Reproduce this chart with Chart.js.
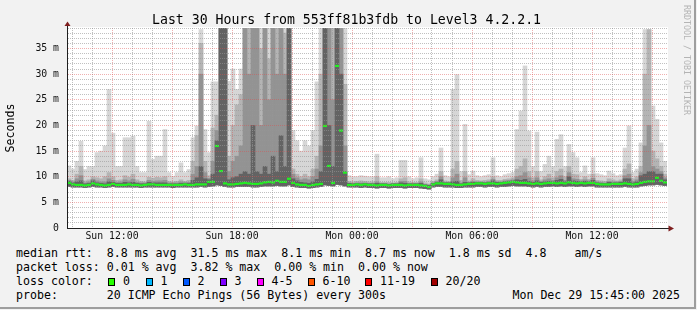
<!DOCTYPE html>
<html>
<head>
<meta charset="utf-8">
<title>Last 30 Hours from 553ff81b3fdb to Level3 4.2.2.1</title>
<script src="https://cdn.jsdelivr.net/npm/chart.js@4.4.1/dist/chart.umd.min.js"></script>
<style>
  html, body { margin:0; padding:0; background:#f2f2f2; }
  #page { position:relative; width:697px; height:310px; overflow:hidden; background:#f2f2f2;
          font-family:"DejaVu Sans Mono", monospace; color:#000; }
  #shadeR { position:absolute; left:694px; top:0; width:2px; height:309px; background:#9e9e9e; }
  #shadeB { position:absolute; left:0; top:307px; width:696px; height:2px; background:#9e9e9e; }
  #chart { position:absolute; left:0; top:0; }
  .txt { position:absolute; white-space:pre; line-height:1; font-size:11.6px; }
  #title { left:152px; top:12.8px; font-size:13.2px; }
  #credit { position:absolute; left:683px; top:5px; font-size:8.3px; line-height:1; color:#b4b4b4;
            writing-mode:vertical-rl; white-space:pre; }
  .box { position:absolute; top:278px; width:7px; height:8px; box-sizing:border-box; border:1px solid #000; }
</style>
</head>
<body>
<div id="page">
  <canvas id="chart" width="697" height="245"></canvas>
  <div class="txt" id="title">Last 30 Hours from 553ff81b3fdb to Level3 4.2.2.1</div>
  <div id="credit">RRDTOOL / TOBI OETIKER</div>
  <div class="txt" style="left:16px;top:248.2px">median rtt:  8.8 ms avg  31.5 ms max  8.1 ms min  8.7 ms now  1.8 ms sd  4.8    am/s</div>
  <div class="txt" style="left:16px;top:262.2px">packet loss: 0.01 % avg  3.82 % max  0.00 % min  0.00 % now</div>
  <div class="txt" style="left:16px;top:276.2px">loss color:</div>
  <div id="lossLegend"></div>
  <div class="txt" style="left:16px;top:290.2px">probe:       20 ICMP Echo Pings (56 Bytes) every 300s</div>
  <div class="txt" style="right:17px;top:290.2px">Mon Dec 29 15:45:00 2025</div>
  <div id="shadeR"></div>
  <div id="shadeB"></div>
</div>
<script>
// ---------------- data ----------------
// time axis: hours since Sun 00:00; graph spans Sun 09:45 .. Mon 15:45, one sample per 12 min
const startHour = 9.75;
const endHour = 39.75;
const sampleHours = 0.2;

// median RTT (ms)
const med = [
  8.8,8.5,8.4,8.4,8.3,8.4,8.7,8.5,8.4,8.3,
  8.4,8.6,8.4,8.4,8.4,8.5,8.4,8.4,8.3,8.4,
  8.5,8.5,8.4,8.4,8.4,8.4,8.4,8.4,8.4,8.5,
  8.4,8.4,8.5,8.5,8.5,9.0,9.0,16.0,11.1,8.7,
  8.5,8.5,8.6,8.7,8.8,8.7,8.6,8.6,8.7,8.9,
  9.0,8.9,9.2,9.0,9.0,9.6,8.8,8.5,8.4,8.4,
  8.2,8.4,8.5,8.6,19.9,12.1,8.8,31.6,19.0,10.8,
  8.4,8.4,8.5,8.4,8.5,8.4,8.4,8.3,8.4,8.4,
  8.3,8.4,8.4,8.4,8.3,8.4,8.4,8.4,8.3,8.2,
  8.0,8.5,8.7,8.7,8.6,8.6,8.5,8.4,8.4,8.5,
  8.6,8.6,8.7,8.7,8.6,8.7,8.7,8.6,8.7,8.8,
  8.9,9.0,8.9,8.8,8.8,8.7,8.6,8.7,8.6,8.7,
  8.8,8.8,8.7,8.8,8.7,8.9,8.8,8.7,8.8,8.7,
  8.8,8.8,8.6,8.5,8.5,8.5,8.6,8.6,8.6,8.7,
  8.6,8.5,8.6,8.8,9.0,9.1,9.1,9.8,9.2,8.9
];

// lowest ping of each sample (ms)
const low = [
  8.1,8.0,8.0,8.0,7.9,8.0,8.1,8.0,8.0,7.9,
  8.0,8.1,8.0,8.0,8.0,8.0,8.0,8.0,7.9,8.0,
  8.0,8.0,8.0,8.0,8.0,8.0,7.9,8.0,8.0,8.0,
  8.0,8.0,8.0,8.1,8.0,8.1,8.2,8.4,8.3,8.1,
  8.0,8.0,8.1,8.1,8.1,8.1,8.0,8.0,8.1,8.2,
  8.2,8.2,8.3,8.2,8.2,8.4,8.1,8.0,7.9,7.9,
  7.8,7.9,8.0,8.1,8.4,8.3,8.2,8.5,8.4,8.2,
  8.0,8.0,8.0,7.9,8.0,7.9,7.9,7.8,7.9,7.9,
  7.8,7.9,7.9,7.9,7.8,7.9,7.9,7.9,7.8,7.7,
  7.6,8.0,8.1,8.1,8.0,8.0,8.0,7.9,7.9,8.0,
  8.0,8.0,8.1,8.1,8.0,8.1,8.1,8.0,8.1,8.1,
  8.2,8.3,8.2,8.2,8.2,8.1,8.0,8.1,8.0,8.1,
  8.1,8.2,8.1,8.2,8.1,8.2,8.2,8.1,8.2,8.1,
  8.2,8.2,8.0,8.0,8.0,8.0,8.0,8.0,8.0,8.1,
  8.0,8.0,8.0,8.2,8.3,8.4,8.4,8.5,8.4,8.3
];

// dense smoke top (ms)
const smokeDense = [
  9.1,8.8,9.0,9.2,8.6,8.7,9.2,8.8,8.7,8.6,
  9.0,8.9,8.7,8.7,8.9,8.8,8.9,8.7,8.6,8.6,
  8.9,8.8,8.8,8.8,8.8,8.6,8.6,8.6,8.7,8.7,
  8.7,9.3,9.8,12.0,9.6,9.4,10.5,17.0,45,45,
  9.4,9.8,10.0,10.5,11.0,10.5,20.0,11.0,10.5,12.0,
  10.5,14.0,11.0,18.0,12.0,45,9.6,9.2,8.9,8.8,
  8.7,9.0,9.5,11.0,45,20.0,12.0,45,30.0,11.0,
  8.7,8.6,8.7,8.6,8.7,8.6,8.6,8.7,8.6,8.6,
  8.5,8.6,8.6,8.8,8.7,8.6,8.6,8.6,8.7,8.4,
  8.3,8.7,8.9,9.4,8.8,8.8,9.0,9.1,8.6,8.9,
  8.8,8.9,8.9,8.9,8.8,8.9,9.2,8.9,8.9,9.0,
  9.1,9.2,9.4,9.3,9.5,9.1,8.9,9.2,8.9,9.0,
  9.1,9.0,9.3,9.5,9.0,10.0,9.2,9.1,9.0,9.1,
  9.0,9.3,8.8,8.7,8.7,8.9,8.8,8.8,8.9,9.6,
  9.6,8.8,9.0,10.2,10.5,11.0,11.0,10.5,10.5,9.4
];

// inner smoke top (ms)
const smokeInner = [
  9.3,9.0,9.6,10.2,8.8,9.0,9.5,9.2,9.0,9.0,
  9.6,9.3,8.9,9.0,9.4,9.2,9.5,8.9,8.8,8.8,
  9.3,9.1,9.2,9.2,9.3,8.8,8.8,8.8,9.0,8.9,
  8.9,10.5,12.0,30.0,10.8,9.7,13.0,19.0,45,45,
  11.0,13.0,14.0,16.0,45,30.0,45,45,20.0,45,
  25.0,45,30.0,45,30.0,45,10.5,9.8,9.4,9.6,
  9.4,10.0,11.5,16.0,45,45,25.0,45,45,16.0,
  8.8,8.7,8.8,8.8,8.8,8.7,8.7,9.0,8.7,8.7,
  8.6,8.7,8.7,9.1,9.1,8.7,8.7,8.7,9.0,8.5,
  8.4,8.8,9.1,10.0,8.9,8.9,9.8,10.5,8.8,9.8,
  8.9,9.1,9.0,9.0,8.9,9.1,9.5,9.0,9.0,9.2,
  9.3,9.4,10.0,10.2,10.8,9.8,9.2,9.8,9.1,9.4,
  9.6,9.3,9.8,10.2,9.3,10.8,9.6,9.5,9.2,9.4,
  9.2,9.7,9.0,8.9,8.8,9.1,9.0,9.0,9.1,10.2,
  10.5,9.1,9.4,10.8,16.0,20.0,12.0,11.5,11.0,9.8
];

// medium smoke top (ms)
const smokeMid = [
  9.6,9.3,10.5,12.0,9.2,9.4,10.0,9.8,9.6,10.0,
  10.8,10.0,9.3,9.4,10.2,9.9,10.5,9.4,9.1,9.0,
  9.9,9.7,9.9,9.8,10.0,9.1,9.0,9.1,9.4,9.1,
  9.3,13.0,18.0,36.0,13.0,10.2,19.5,22.0,45,45,
  14.0,20.0,24.0,26.0,45,45,45,45,35.0,45,
  33.0,45,45,45,38.0,45,11.5,10.5,10.0,10.5,
  10.0,11.5,14.0,30.0,45,45,40.0,45,45,28.0,
  9.1,9.0,9.1,9.2,9.1,9.0,9.0,10.0,8.9,8.9,
  8.9,8.8,8.9,9.6,9.8,9.0,8.9,8.9,9.6,8.8,
  8.6,9.1,9.4,11.0,9.2,9.1,11.5,13.0,9.3,11.0,
  9.2,9.6,9.3,9.2,9.3,9.4,10.0,9.3,9.3,9.5,
  9.6,9.8,11.5,12.0,13.5,11.0,9.8,11.0,9.4,10.0,
  10.5,9.8,11.0,11.5,10.0,12.0,10.5,10.4,9.5,10.0,
  9.5,10.5,9.3,9.2,9.1,9.6,9.4,9.2,9.4,11.5,
  12.5,9.6,10.0,12.0,30.0,38.7,15.0,13.5,12.0,10.5
];

// highest ping of each sample (ms); 45 = above the top of the scale
const smokeMax = [
  12.1,11.5,13.0,16.9,11.4,12.0,12.0,14.7,15.0,16.0,
  27.0,18.5,12.0,12.0,17.6,17.6,17.9,12.0,10.8,10.8,
  20.8,13.4,14.0,14.0,19.2,10.8,10.1,10.8,12.7,10.8,
  11.4,17.6,19.9,38.7,19.2,14.7,28.5,28.5,45,45,
  28.6,31.0,27.0,31.0,45,45,45,45,45,45,
  45,45,45,45,45,45,19.0,17.0,15.0,17.0,
  16.0,19.0,28.5,45,45,45,45,45,45,45,
  10.2,10.0,10.0,10.2,10.1,10.0,10.0,14.4,9.8,9.8,
  10.0,9.6,9.8,13.2,13.2,10.0,9.6,9.8,13.7,9.6,
  9.4,10.0,10.5,15.6,10.2,10.0,27.0,29.9,11.0,20.2,
  10.4,11.1,10.2,10.0,10.2,10.4,13.7,10.2,10.0,10.4,
  10.6,10.8,19.2,22.8,31.6,18.9,12.0,18.7,11.0,12.4,
  14.0,12.0,17.3,18.2,12.0,16.3,14.7,13.7,10.8,12.1,
  10.5,13.7,10.6,10.4,10.2,11.1,10.6,10.2,10.4,15.6,
  19.9,10.8,11.5,16.6,38.7,38.7,23.8,21.2,16.6,13.0
];

// axis ticks
const xTickHours  = [12, 18, 24, 30, 36];
const xTickLabels = ['Sun 12:00', 'Sun 18:00', 'Mon 00:00', 'Mon 06:00', 'Mon 12:00'];
const yMax = 39;
const yTickValues = [0, 5, 10, 15, 20, 25, 30, 35];
const yTickLabels = ['0', '5 m', '10 m', '15 m', '20 m', '25 m', '30 m', '35 m'];

// loss colour legend
const lossLabels = ['0', '1', '2', '3', '4-5', '6-10', '11-19', '20/20'];
const lossColors = ['#26ff00', '#00b8ff', '#0059ff', '#7e00ff', '#ff00ff', '#ff5500', '#ff0000', '#a10000'];

// ---------------- layout / styles ----------------
const lossBoxX = [108, 145.5, 182.5, 219.5, 256.5, 307.5, 365, 430.5];
const legendEl = document.getElementById('lossLegend');
lossLabels.forEach((lab, k) => {
  const b = document.createElement('div');
  b.className = 'box';
  b.style.left = lossBoxX[k] + 'px';
  b.style.background = lossColors[k];
  legendEl.appendChild(b);
  const t = document.createElement('div');
  t.className = 'txt';
  t.style.left = (lossBoxX[k] + 15) + 'px';
  t.style.top = '276.2px';
  t.textContent = lab;
  legendEl.appendChild(t);
});

const times = med.map((_, i) => startHour + sampleHours * (i + 0.5));
const hourTicks = [];
for (let h = Math.ceil(startHour); h <= Math.floor(endHour); h++) hourTicks.push(h);
const yTicksAll = [];
for (let v = 0; v <= yMax; v++) yTicksAll.push(v);

const GRID_MINOR = 'rgba(150,150,150,0.6)';
const GRID_MAJOR = 'rgba(222,79,79,0.45)';
const AXIS = '#1f1f1f';
const ARROW = '#7f1f1f';
const GREEN = '#22f022';

const ranges = (top) => top.map((v, i) => ({ x: times[i], y: [low[i], v] }));
const points = (vals) => vals.map((v, i) => ({ x: times[i], y: v }));

const plotBg = {
  id: 'plotBg',
  beforeDraw(chart) {
    const { ctx, chartArea: a } = chart;
    ctx.save();
    ctx.fillStyle = '#ffffff';
    ctx.fillRect(a.left, a.top - 1, a.right - a.left + 1, a.bottom - a.top + 1);
    ctx.restore();
  },
  afterDraw(chart) {
    const { ctx, chartArea: a } = chart;
    const xa = Math.round(a.left) + 0.5;
    const ya = Math.round(a.bottom) + 0.5;
    ctx.save();
    ctx.strokeStyle = AXIS;
    ctx.lineWidth = 1;
    ctx.beginPath();
    ctx.moveTo(xa, a.top);
    ctx.lineTo(xa, a.top - 3);
    ctx.moveTo(a.right, ya);
    ctx.lineTo(a.right + 2, ya);
    ctx.stroke();
    ctx.fillStyle = ARROW;
    ctx.beginPath();
    ctx.moveTo(xa - 3, a.top - 2);
    ctx.lineTo(xa + 3, a.top - 2);
    ctx.lineTo(xa, a.top - 6.5);
    ctx.closePath();
    ctx.fill();
    ctx.beginPath();
    ctx.moveTo(a.right + 1.5, ya - 3);
    ctx.lineTo(a.right + 1.5, ya + 3);
    ctx.lineTo(a.right + 7, ya);
    ctx.closePath();
    ctx.fill();
    ctx.restore();
  }
};

Chart.defaults.font.family = "'DejaVu Sans Mono', monospace";
Chart.defaults.color = '#000';

const barCommon = { grouped: false, barPercentage: 1, categoryPercentage: 1, borderWidth: 0, clip: 0 };

new Chart(document.getElementById('chart'), {
  type: 'bar',
  data: {
    datasets: [
      Object.assign({ label: 'median', type: 'line', data: points(med), showLine: false,
        pointStyle: 'line', pointRadius: 2, pointHoverRadius: 2, pointBorderWidth: 2.2,
        pointBorderColor: GREEN, pointBackgroundColor: GREEN, order: 0, clip: 3 }),
      Object.assign({ label: 'dense', data: ranges(smokeDense), backgroundColor: '#636363', order: 1 }, barCommon),
      Object.assign({ label: 'inner', data: ranges(smokeInner), backgroundColor: '#939393', order: 2 }, barCommon),
      Object.assign({ label: 'mid', data: ranges(smokeMid), backgroundColor: '#b4b4b4', order: 3 }, barCommon),
      Object.assign({ label: 'max', data: ranges(smokeMax), backgroundColor: '#d6d6d6', order: 4 }, barCommon)
    ]
  },
  plugins: [plotBg],
  options: {
    responsive: false,
    animation: false,
    events: [],
    layout: { padding: { left: 0, right: 30, top: 28, bottom: 0 } },
    plugins: { legend: { display: false }, tooltip: { enabled: false }, title: { display: false } },
    scales: {
      x: {
        type: 'linear',
        offset: false,
        min: startHour,
        max: endHour,
        afterBuildTicks: (s) => { s.ticks = hourTicks.map(v => ({ value: v })); },
        afterFit: (s) => { s.height = 17; },
        ticks: {
          autoSkip: false, maxRotation: 0, padding: 3,
          font: { size: 9.8 }, color: '#111',
          callback: (v) => { const k = xTickHours.indexOf(v); return k >= 0 ? xTickLabels[k] : ''; }
        },
        grid: {
          offset: false, drawTicks: false, z: 1, lineWidth: 1,
          borderDash: [1, 1],
          color: (c) => (c.tick && c.tick.value % 3 === 0) ? GRID_MAJOR : GRID_MINOR
        },
        border: { display: true, color: AXIS, width: 1, dash: [1, 1], z: 2 }
      },
      y: {
        type: 'linear',
        min: 0,
        max: yMax,
        afterBuildTicks: (s) => { s.ticks = yTicksAll.map(v => ({ value: v })); },
        afterFit: (s) => { s.width = 67; },
        ticks: {
          autoSkip: false, padding: 8,
          font: { size: 9.8 }, color: '#111',
          callback: (v) => { const k = yTickValues.indexOf(v); return k >= 0 ? yTickLabels[k] : ''; }
        },
        grid: {
          drawTicks: false, z: 1, lineWidth: 1,
          borderDash: [1, 1],
          color: (c) => (c.tick && c.tick.value % 5 === 0) ? GRID_MAJOR : GRID_MINOR
        },
        border: { display: true, color: AXIS, width: 1, dash: [1, 1], z: 2 },
        title: { display: true, text: 'Seconds', font: { size: 11.6 }, color: '#000', padding: { top: 4, bottom: 0 } }
      }
    }
  }
});
</script>
</body>
</html>
